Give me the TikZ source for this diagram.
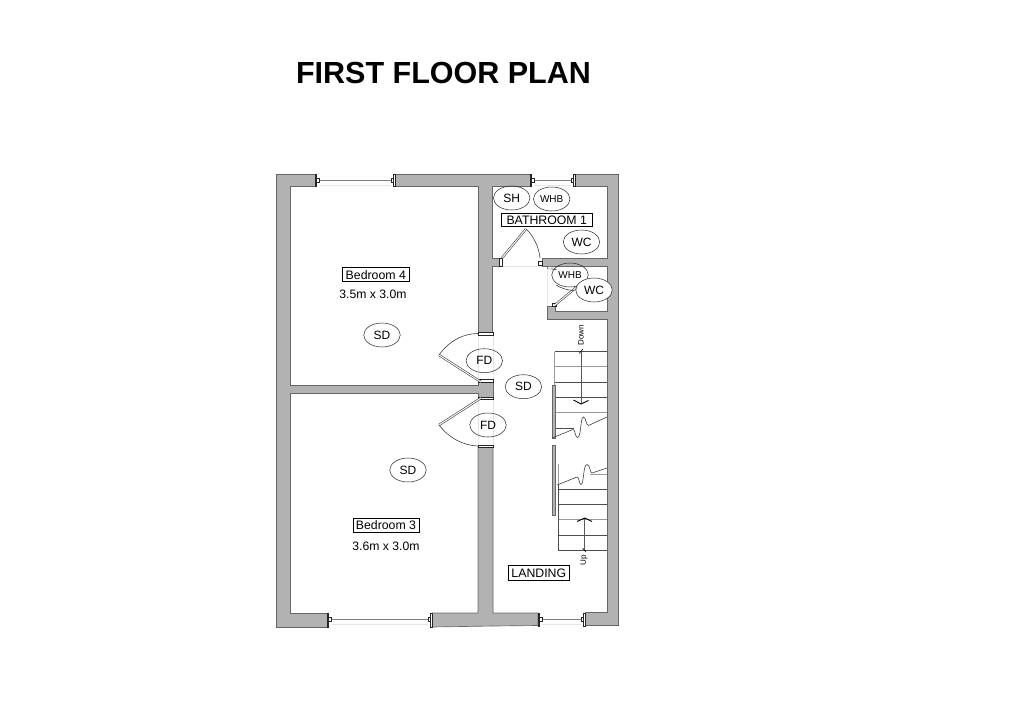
\documentclass[tikz,border=0pt]{standalone}
\usepackage{fontspec}
\setmainfont{Liberation Sans}
\definecolor{wallgrey}{HTML}{B2B2B2}
\definecolor{walledge}{HTML}{666666}
\tikzset{
  x=1pt,y=-1pt,
  wallshape/.style={fill=wallgrey,draw=walledge,line width=0.65pt,line join=miter},
  fixture/.style={ellipse,draw=black!85,line width=0.5pt,inner sep=0pt,minimum width=36.5pt,minimum height=24pt,font=\fontsize{12}{14}\selectfont},
  smallfixture/.style={fixture,font=\fontsize{10}{12}\selectfont},
  roomlabel/.style={draw=black,line width=0.6pt,fill=white,inner sep=0pt,font=\fontsize{12.3}{14}\selectfont},
  plaintext/.style={inner sep=0pt,font=\fontsize{12.2}{14}\selectfont},
  tinytext/.style={inner sep=0pt,rotate=90,font=\fontsize{8}{10}\selectfont},
  tread/.style={draw=black!70,line width=0.55pt},
  softtread/.style={draw=black!40,line width=0.55pt},
  swing/.style={draw=black!80,line width=0.55pt},
  leaf/.style={draw=black!75,line width=2.2pt,postaction={draw=white,line width=1pt}},
  glass/.style={draw=black!50,line width=0.7pt},
  pale/.style={draw=black!10,line width=0.5pt},
  jamb/.style={draw=black!85,fill=white,line width=0.45pt},
  breakline/.style={draw=black!80,line width=0.55pt},
  flow/.style={draw=black!65,line width=0.7pt},
  chevron/.style={draw=black,line width=0.9pt}
}
\usetikzlibrary{shapes.geometric}
\begin{document}
\begin{tikzpicture}
\useasboundingbox (0,0) rectangle (1024,720);
\fill[white] (0,0) rectangle (1024,720);
\node[inner sep=0pt,font=\fontsize{30.5}{34}\bfseries\selectfont] (title) at (443.5,73) {FIRST FLOOR PLAN};
% pale lines: door thresholds
\draw[pale] (500,266) -- (542,266) (547,266) -- (547,306) (478,333) -- (478,381) (493,333) -- (493,381) (493,398) -- (493,447) (478,398) -- (478,447);
% walls
\draw[wallshape] (315,174) -- (276,174) -- (276,627) -- (327,627) -- (327,613) -- (290,613) -- (290,393) -- (478,393) -- (478,398) -- (493,398) -- (493,381) -- (478,381) -- (478,385) -- (290,385) -- (290,186) -- (315,186) -- cycle;
\draw[wallshape] (395,174) -- (530,174) -- (530,186) -- (492.5,186) -- (492.5,258) -- (500,258) -- (500,266) -- (492.5,266) -- (492.5,333) -- (478,333) -- (478,186) -- (395,186) -- cycle;
\draw[wallshape] (575,174) -- (618,174) -- (618,625) -- (585,625) -- (585,612.5) -- (607,612.5) -- (607,319) -- (547,319) -- (547,306) -- (555,306) -- (555,311) -- (607,311) -- (607,266) -- (542,266) -- (542,258) -- (607,258) -- (607,186) -- (575,186) -- cycle;
\draw[wallshape] (432,627) -- (493,626) -- (538,625.5) -- (538,613) -- (493,613) -- (493,447) -- (478,447) -- (478,613) -- (432,613) -- cycle;
% windows
\foreach \xa/\xb/\ya/\yb/\ym in {315/395/174/186/180, 530/575/174/186/180, 327/432/613/627/619, 538/585/613/626/619}{
  \draw[glass] (\xa+4,\ym) -- (\xb-4,\ym);
  \draw[pale] (\xa+4,\ym+5) -- (\xb-4,\ym+5);
  \draw[jamb] (\xa,\ya) rectangle (\xa+1.6,\yb);
  \draw[jamb] (\xb-1.6,\ya) rectangle (\xb,\yb);
  \draw[jamb] (\xa+1.6,\ym-2) rectangle (\xa+4.2,\ym+2);
  \draw[jamb] (\xb-4.2,\ym-2) rectangle (\xb-1.6,\ym+2);
}
% door jambs
\foreach \xa/\xb/\ya/\yb in {478/493/332.5/335, 478/493/379.5/382, 478/493/397/399.5, 478/493/445/447.5}{
  \draw[jamb] (\xa,\ya) rectangle (\xb,\yb);
}
\draw[jamb] (499,258) rectangle (502,266);
\draw[jamb] (538,261) rectangle (542,265);
\draw[jamb] (552,303.5) rectangle (556,306.5);
\draw[jamb] (547,266.5) -- (552,266.5) -- (552,269) -- (548,269) -- cycle;
% door leaves and swings
\draw[leaf] (481,382) -- (439,355);
\draw[swing] (439,355) .. controls (449,341) and (463,333.5) .. (478,333.5);
\draw[leaf] (481,398) -- (439,425);
\draw[swing] (439,425) .. controls (449,438) and (463,445.5) .. (478,446);
\draw[leaf] (502,258) -- (526,229);
\draw[swing] (526,229) .. controls (533,235) and (539,247) .. (540,258);
\draw[leaf] (555,305) -- (584,281);
\draw[swing] (552,269) -- (557,270);
\draw[swing] (556,285) .. controls (561,288) and (566,290) .. (574,290.5);
% stair treads
\draw[softtread] (554.5,351.7) -- (554.5,385);
\foreach \y in {351.7,382.3,397.3}{\draw[tread] (554.5,\y) -- (607,\y);}
\foreach \y in {366.7,412.7}{\draw[softtread] (554.5,\y) -- (607,\y);}
\draw[tread] (555,428) -- (574,428);
\foreach \y in {489.3,504.3,535,550.7}{\draw[tread] (558.5,\y) -- (607,\y);}
\draw[softtread] (558.5,519.3) -- (607,519.3);
\draw[softtread] (590,474) -- (607,474);
\draw[tread] (558.5,485) -- (558.5,550.7);
\draw[softtread] (558.5,464) -- (558.5,485);
% handrail
\draw[wallshape,line width=0.4pt] (552.3,385) rectangle (555,438);
\draw[wallshape,line width=0.4pt] (552.3,445) rectangle (555,515);
% break lines
\draw[breakline] (552,438) -- (573,429.5) .. controls (575,428.5) and (575,437.5) .. (577.5,437.5) .. controls (581.5,437.5) and (580,417) .. (583.5,417) .. controls (586,417) and (586,426) .. (588.5,425.5) -- (607,417);
\draw[breakline] (557,485) -- (577,477) .. controls (579,476) and (579,484.5) .. (581,484.5) .. controls (584,484.5) and (583,464.5) .. (587,464.5) .. controls (590,464.5) and (590,473) .. (592,473) -- (607,468);
% flow arrows
\draw[flow] (581,352) -- (581,403);
\draw[chevron] (573.5,400) -- (581,404) -- (588.5,400.5);
\draw[chevron,line width=0.6pt] (579,353.5) -- (583,349);
\draw[flow] (584.7,518) -- (584.7,550);
\draw[chevron] (577,521.5) -- (584.7,518) -- (592,521.5);
\draw[chevron,line width=0.6pt] (582.5,548) -- (586,552);
% fixtures
\node[fixture] (sh) at (511.7,198) {SH};
\node[smallfixture] (whbtop) at (551.7,199) {WHB};
\node[fixture] (wctop) at (581.5,242) {WC};
\node[smallfixture,fill=none] (whblow) at (570,275) {WHB};
\node[fixture,fill=white] (wclow) at (594,290) {WC};
\node[fixture] (fdup) at (484.3,360.7) {FD};
\node[fixture] (fdlow) at (488,425) {FD};
\node[fixture] (sdhall) at (523.4,386.7) {SD};
\node[fixture] (sdbed4) at (382,335) {SD};
\node[fixture] (sdbed3) at (408,470) {SD};
% room labels
\node[roomlabel,minimum width=91pt,minimum height=13.5pt] (bath) at (546.7,220) {BATHROOM 1};
\node[roomlabel,minimum width=67pt,minimum height=14pt] (bed4) at (375.8,274.7) {Bedroom 4};
\node[plaintext] (dim4) at (373,294.5) {3.5m x 3.0m};
\node[roomlabel,minimum width=66pt,minimum height=14pt] (bed3) at (386,525) {Bedroom 3};
\node[plaintext] (dim3) at (386,546) {3.6m x 3.0m};
\node[roomlabel,minimum width=61pt,minimum height=14.5pt] (landing) at (538.8,573) {LANDING};
\node[tinytext] (down) at (581,335) {Down};
\node[tinytext] (up) at (584,560) {Up};
\end{tikzpicture}
\end{document}
